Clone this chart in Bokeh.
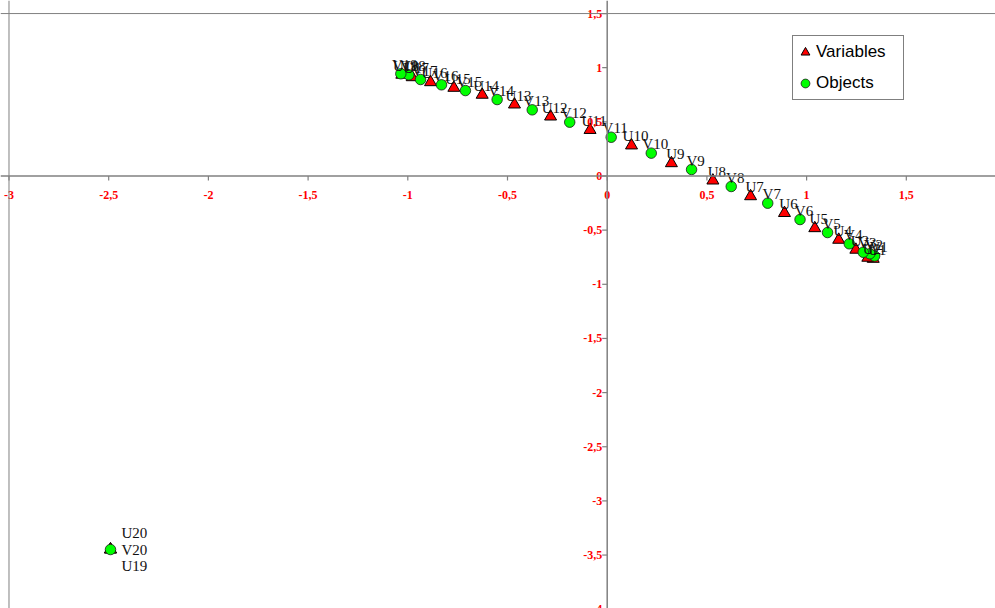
from bokeh.plotting import figure
from bokeh.models import Span, ColumnDataSource, Legend, LegendItem, Range1d
from bokeh.core.properties import value
from bokeh.embed import file_html
from bokeh.resources import INLINE

# ---------------- data ----------------
var_names = ["U1", "U2", "U3", "U4", "U5", "U6", "U7", "U8", "U9", "U10",
             "U11", "U12", "U13", "U14", "U15", "U16", "U17", "U18", "U19", "U20"]
var_x = [1.334, 1.307, 1.247, 1.161, 1.041, 0.889, 0.719, 0.530, 0.322, 0.122,
         -0.086, -0.284, -0.465, -0.627, -0.769, -0.886, -0.978, -1.030, -2.491, -2.491]
var_y = [-0.765, -0.755, -0.681, -0.589, -0.482, -0.342, -0.187, -0.042, 0.118, 0.282,
         0.425, 0.549, 0.660, 0.750, 0.814, 0.866, 0.912, 0.935, -3.449, -3.449]

obj_names = ["V1", "V2", "V3", "V4", "V5", "V6", "V7", "V8", "V9", "V10",
             "V11", "V12", "V13", "V14", "V15", "V16", "V17", "V18", "V19", "V20"]
obj_x = [1.341, 1.317, 1.284, 1.214, 1.105, 0.967, 0.805, 0.622, 0.423, 0.221,
         0.020, -0.188, -0.376, -0.552, -0.711, -0.831, -0.936, -0.995, -1.035, -2.491]
obj_y = [-0.739, -0.718, -0.704, -0.626, -0.522, -0.402, -0.251, -0.097, 0.060, 0.211,
         0.358, 0.497, 0.611, 0.706, 0.789, 0.842, 0.891, 0.934, 0.944, -3.449]

x_ticks = [-3, -2.5, -2, -1.5, -1, -0.5, 0, 0.5, 1, 1.5]
x_tick_labels = ["-3", "-2,5", "-2", "-1,5", "-1", "-0,5", "0", "0,5", "1", "1,5"]
y_ticks = [-4, -3.5, -3, -2.5, -2, -1.5, -1, -0.5, 0, 0.5, 1, 1.5]
y_tick_labels = ["-4", "-3,5", "-3", "-2,5", "-2", "-1,5", "-1", "-0,5", "0", "0,5", "1", "1,5"]

series_names = ["Variables", "Objects"]

# ---------------- layout ----------------
W, H = 995, 608
x_start, x_end = -3.0426, 1.9473
y_start, y_end = -3.9935, 1.6205
sx = W / (x_end - x_start)
sy = H / (y_end - y_start)

AXIS_COLOR = "#808080"
TICK_RED = "#FF0000"

p = figure(width=W, height=H,
           x_range=Range1d(x_start, x_end), y_range=Range1d(y_start, y_end),
           x_axis_type=None, y_axis_type=None,
           toolbar_location=None, output_backend="svg",
           min_border=0, min_border_left=0, min_border_right=0,
           min_border_top=0, min_border_bottom=0,
           outline_line_color=None, background_fill_color="white",
           border_fill_color="white")

# plot-area border (top and left visible)
p.add_layout(Span(location=y_ticks[-1], dimension="width", line_color=AXIS_COLOR, line_width=1))
p.add_layout(Span(location=x_ticks[0], dimension="height", line_color=AXIS_COLOR, line_width=1))

# axes crossing at origin
p.add_layout(Span(location=0, dimension="width", line_color=AXIS_COLOR, line_width=1.5))
p.add_layout(Span(location=0, dimension="height", line_color=AXIS_COLOR, line_width=1.5))

# tick marks
p.segment(x0=x_ticks, x1=x_ticks, y0=[0] * len(x_ticks), y1=[-4.5 / sy] * len(x_ticks),
          line_color=AXIS_COLOR, line_width=1.2)
p.segment(x0=[0] * len(y_ticks), x1=[-5 / sx] * len(y_ticks), y0=y_ticks, y1=y_ticks,
          line_color=AXIS_COLOR, line_width=1.2)

# series
var_src = ColumnDataSource(dict(x=var_x, y=var_y, name=var_names))
obj_src = ColumnDataSource(dict(x=obj_x, y=obj_y, name=obj_names))

tri = p.scatter("x", "y", source=var_src, marker="triangle", size=12,
                fill_color="#FF0000", line_color="black", line_width=1)
circ = p.scatter("x", "y", source=obj_src, marker="circle", size=10.5,
                 fill_color="#00FF00", line_color="#1a1a1a", line_width=0.8)

# data labels
OUTLIER_OFFSETS = {"U20": -17, "V20": 0, "U19": 16}

def split(names, xs, ys):
    main = dict(x=[], y=[], t=[])
    out = dict(x=[], y=[], t=[], yo=[])
    for n, x, y in zip(names, xs, ys):
        if n in OUTLIER_OFFSETS:
            out["x"].append(x); out["y"].append(y); out["t"].append(n)
            out["yo"].append(OUTLIER_OFFSETS[n])
        else:
            main["x"].append(x); main["y"].append(y); main["t"].append(n)
    return main, out

lab_font = value("Liberation Serif")
for names, xs, ys in ((var_names, var_x, var_y), (obj_names, obj_x, obj_y)):
    main, out = split(names, xs, ys)
    p.text(x=main["x"], y=main["y"], text=main["t"], x_offset=4, y_offset=-9,
           text_align="center", text_baseline="middle", text_font=lab_font,
           text_font_size="15px", text_color="#111111")
    if out["x"]:
        p.text(x="x", y="y", text="t", y_offset="yo", x_offset=11,
               source=ColumnDataSource(out),
               text_align="left", text_baseline="middle", text_font=lab_font,
               text_font_size="15px", text_color="#111111")

# tick labels (drawn last, on top)
tick_font = value("Liberation Serif")
p.text(x=x_ticks, y=[0] * len(x_ticks), text=x_tick_labels, y_offset=19,
       text_align="center", text_baseline="middle", text_font=tick_font,
       text_font_size="12px", text_font_style="bold", text_color=TICK_RED)
p.text(x=[0] * len(y_ticks), y=y_ticks, text=y_tick_labels, x_offset=-5,
       text_align="right", text_baseline="middle", text_font=tick_font,
       text_font_size="12px", text_font_style="bold", text_color=TICK_RED)

# legend
legend = Legend(items=[LegendItem(label=series_names[0], renderers=[tri]),
                       LegendItem(label=series_names[1], renderers=[circ])],
                location=(792, 508), orientation="vertical",
                margin=0, padding=1, spacing=1,
                glyph_width=22, glyph_height=30, label_height=30,
                label_width=86, label_standoff=-5,
                border_line_color="black", border_line_width=1,
                background_fill_color="white", background_fill_alpha=1.0,
                label_text_font="Liberation Sans", label_text_font_size="17px",
                label_text_color="black")
p.add_layout(legend)

open("out.html", "w").write(file_html(p, INLINE))
